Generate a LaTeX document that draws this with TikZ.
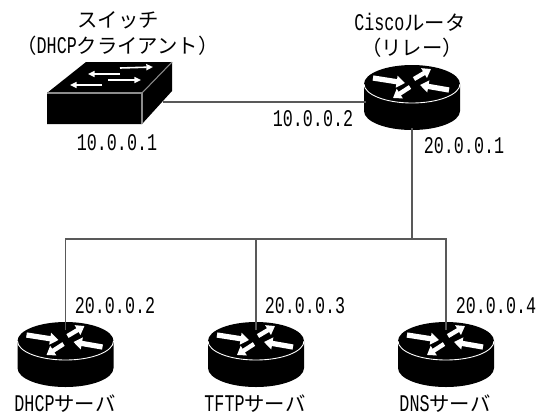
\documentclass[tikz,border=0pt]{standalone}
\usepackage{fontspec}
\setmainfont[FakeStretch=0.7]{Liberation Mono}
\newfontfamily\jpfont{Noto Sans CJK JP}
\usetikzlibrary{arrows.meta}
\newcommand{\jp}[1]{{\jpfont\fontsize{11.6}{14}\selectfont #1}}
\tikzset{
	wire/.style={black!65, line width=0.6pt},
	caption/.style={inner sep=0pt, font=\fontsize{13.6}{14}\selectfont},
	fatarrow/.style={white, line width=3pt, -{Triangle[length=4.8pt, width=6.6pt]}},
	thinarrow/.style={white, line width=2.5pt, -{Triangle[length=4.6pt, width=6.2pt]}},
	swarrow/.style={white, line width=0.9pt, -{Triangle[length=3.8pt, width=3.4pt]}},
	routericon/.pic={
		\fill[black](-48,0)--(-48,27)arc[start angle=180, end angle=0, x radius=48, y radius=19]--(48,0)arc[start angle=0, end angle=-180, x radius=48, y radius=19]--cycle;
		\draw[white, line width=0.5pt](-48,0)arc[start angle=180, end angle=0, x radius=48, y radius=19];
		\foreach \a/\b/\c/\d in {-39/-6/-7/-1, 37/6/8/1}{
			\draw[fatarrow](\a,\b)--(\c,\d);
		}
		\foreach \a/\b/\c/\d in {2/-5/19/-15, -2/3/-19/14}{
			\draw[thinarrow](\a,\b)--(\c,\d);
		}
		\coordinate (-top) at (0,-11);
		\coordinate (-west) at (-46,18);
		\coordinate (-south) at (0,44);
	},
	switchicon/.pic={
		\fill[black](47,93)--(86,62)--(172,62)--(172,91)--(142,124)--(47,124)--cycle;
		\draw[black!45, line width=0.6pt](47,93)--(142,93)--(142,124);
		\draw[black!45, line width=0.6pt](142,93)--(172,62);
		\foreach \a/\b/\c/\d in {120/68/153/67, 120/74/88/74, 108/80/141/80, 102/85/70/85}{
			\draw[swarrow](\a,\b)--(\c,\d);
		}
		\coordinate (-east) at (163,102);
	}
}
\begin{document}
\begin{tikzpicture}[x=0.02cm, y=-0.02cm]
\useasboundingbox (0,0) rectangle (541,414);
\pic (client) at (0,0) {switchicon};
\pic (relay) at (412,84) {routericon};
\pic (dhcp) at (65.5,341) {routericon};
\pic (tftp) at (256,341) {routericon};
\pic (dns) at (446,341) {routericon};
\coordinate (busjoin) at (412,239);
\draw[wire](client-east)--(relay-west);
\draw[wire](relay-south)--(busjoin);
\draw[wire](dhcp-top)|-(busjoin)-|(dns-top);
\draw[wire](tftp-top)--(tftp-top|-busjoin);
\node[caption] (clienttitle) at (118,20) {\jp{スイッチ}};
\node[caption] (clientsub) at (117.5,46) {\jp{（}DHCP\jp{クライアント）}};
\node[caption] (clientip) at (117,143) {10.0.0.1};
\node[caption] (relaytitle) at (410,22) {Cisco\jp{ルータ}};
\node[caption] (relaysub) at (412,48) {\jp{（リレー）}};
\node[caption] (relayipa) at (313,119) {10.0.0.2};
\node[caption] (relayipb) at (464,146) {20.0.0.1};
\node[caption] (dhcpip) at (115,306) {20.0.0.2};
\node[caption] (tftpip) at (305,306) {20.0.0.3};
\node[caption] (dnsip) at (496,306) {20.0.0.4};
\node[caption] (dhcpname) at (65,404) {DHCP\jp{サーバ}};
\node[caption] (tftpname) at (255,404) {TFTP\jp{サーバ}};
\node[caption] (dnsname) at (445,404) {DNS\jp{サーバ}};
\end{tikzpicture}
\end{document}
